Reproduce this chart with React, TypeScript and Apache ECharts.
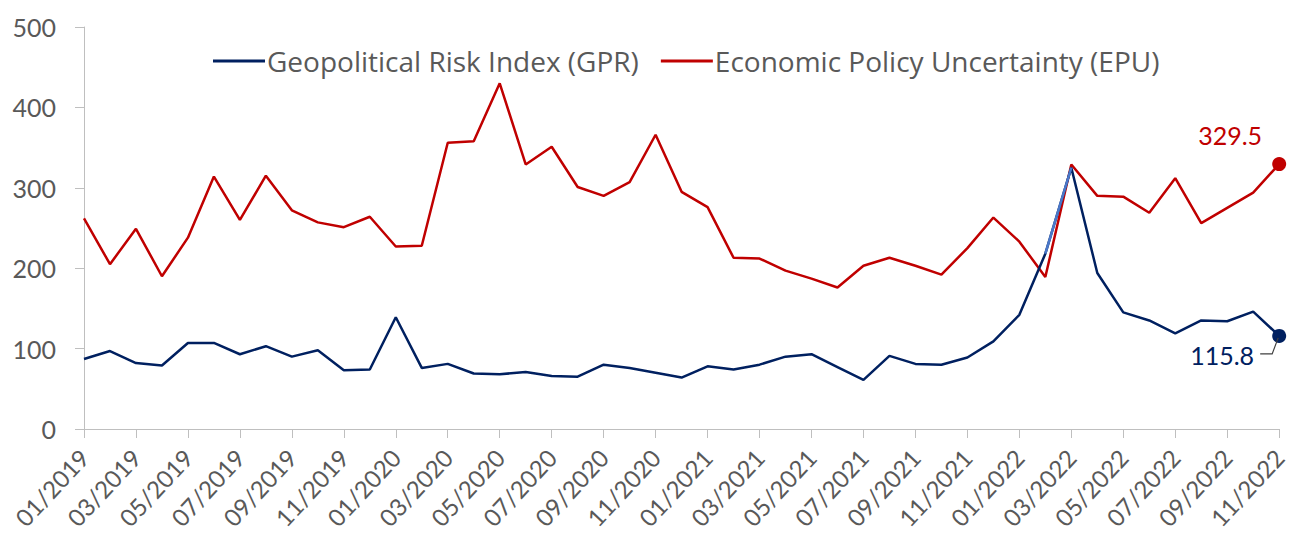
import React, { useEffect, useRef } from "react";
import * as echarts from "echarts";

const months: string[] = [];
for (let y = 2019; y <= 2022; y++) {
  for (let m = 1; m <= 12; m++) {
    if (y === 2022 && m > 11) break;
    months.push(`${m < 10 ? "0" + m : m}/${y}`);
  }
}

const gprValues = [
  87, 97, 82, 79, 107, 107, 93, 103, 90, 98, 73, 74,
  139, 76, 81, 69, 68, 71, 66, 65, 80, 76, 70, 64,
  78, 74, 80, 90, 93, 77, 61, 91, 81, 80, 89, 109,
  142, 218, 325, 194, 145, 135, 119, 135, 134, 146, 115.8,
];

const epuValues = [
  262, 205, 249, 190, 238, 314, 260, 315, 272, 257, 251, 264,
  227, 228, 356, 358, 430, 329, 351, 301, 290, 307, 366, 295,
  276, 213, 212, 197, 187, 176, 203, 213, 203, 192, 225, 263,
  233, 189, 329, 290, 289, 269, 312, 256, 275, 294, 329.5,
];

// highlighted segment of GPR (02/2022 -> 03/2022)
const highlightIdx = [37, 38];

const yTicks = { min: 0, max: 500, interval: 100 };

const GPR_NAME = "Geopolitical Risk Index (GPR)";
const EPU_NAME = "Economic Policy Uncertainty (EPU)";
const NAVY = "#002060";
const RED = "#C00000";
const LIGHT = "#4a78c9";
const TEXT = "#595959";
const AXIS = "#bfbfbf";
const FONT = "Lato";
const LEGEND_FONT = "Open Sans";

export default function App() {
  const ref = useRef<HTMLDivElement>(null);
  useEffect(() => {
    if (!ref.current) return;
    const chart = echarts.init(ref.current, undefined, { renderer: "svg" });
    const last = months.length - 1;

    const gprData: any[] = gprValues.map((v, i) =>
      i === last
        ? {
            value: v,
            symbol: "circle",
            symbolSize: 14,
            label: {
              show: true,
              position: "inside",
              offset: [-57, 19],
              color: NAVY,
              fontSize: 25,
              fontFamily: FONT,
              formatter: () => v.toFixed(1),
            },
          }
        : v
    );
    const epuData: any[] = epuValues.map((v, i) =>
      i === last
        ? {
            value: v,
            symbol: "circle",
            symbolSize: 14,
            label: {
              show: true,
              position: "inside",
              offset: [-49, -29],
              color: RED,
              fontSize: 25,
              fontFamily: FONT,
              formatter: () => v.toFixed(1),
            },
          }
        : v
    );
    const hlData = gprValues.map((v, i) => (highlightIdx.includes(i) ? v : null));

    chart.setOption({
      animation: false,
      textStyle: { fontFamily: FONT },
      grid: { left: 84, right: 7, top: 27, bottom: 110, containLabel: false },
      legend: {
        data: [
          { name: GPR_NAME, icon: "rect" },
          { name: EPU_NAME, icon: "rect" },
        ],
        left: 208,
        top: 42,
        itemWidth: 52,
        itemHeight: 3,
        itemGap: 22,
        textStyle: { color: TEXT, fontSize: 28, fontFamily: LEGEND_FONT, padding: [0, 0, 0, -3] },
      },
      xAxis: {
        type: "category",
        data: months,
        boundaryGap: false,
        axisLine: { lineStyle: { color: AXIS, width: 1 } },
        axisTick: { interval: 1, length: 9, lineStyle: { color: AXIS } },
        axisLabel: {
          interval: 1,
          rotate: 47,
          color: TEXT,
          fontSize: 24,
          fontFamily: FONT,
          margin: 24,
        },
        splitLine: { show: false },
      },
      yAxis: {
        type: "value",
        min: yTicks.min,
        max: yTicks.max,
        interval: yTicks.interval,
        axisLine: { show: true, lineStyle: { color: AXIS, width: 1 } },
        axisTick: { show: true, length: 9, lineStyle: { color: AXIS } },
        axisLabel: { color: TEXT, fontSize: 25, fontFamily: FONT, margin: 28 },
        splitLine: { show: false },
      },
      series: [
        {
          name: GPR_NAME,
          type: "line",
          data: gprData,
          symbol: "none",
          color: NAVY,
          lineStyle: { color: NAVY, width: 2.5 },
          itemStyle: { color: NAVY },
          z: 3,
        },
        {
          name: EPU_NAME,
          type: "line",
          data: epuData,
          symbol: "none",
          color: RED,
          lineStyle: { color: RED, width: 2.5 },
          itemStyle: { color: RED },
          z: 2,
        },
        {
          name: "GPR highlight",
          type: "line",
          data: hlData,
          symbol: "none",
          color: LIGHT,
          lineStyle: { color: LIGHT, width: 2.5 },
          z: 4,
        },
      ],
    });

    const p = chart.convertToPixel({ gridIndex: 0 }, [last, gprValues[last]]) as number[];
    if (p) {
      chart.setOption({
        graphic: [
          {
            type: "polyline",
            shape: {
              points: [
                [p[0] - 19, p[1] + 18],
                [p[0] - 7, p[1] + 18],
                [p[0] - 1, p[1] + 2],
              ],
            },
            style: { stroke: "#404040", lineWidth: 1.2, fill: null },
            z: 10,
          },
        ],
      });
    }

    return () => chart.dispose();
  }, []);
  return (
    <div
      ref={ref}
      style={{ position: "fixed", left: 0, top: 0, width: 1290, height: 539, background: "#fff" }}
    />
  );
}
